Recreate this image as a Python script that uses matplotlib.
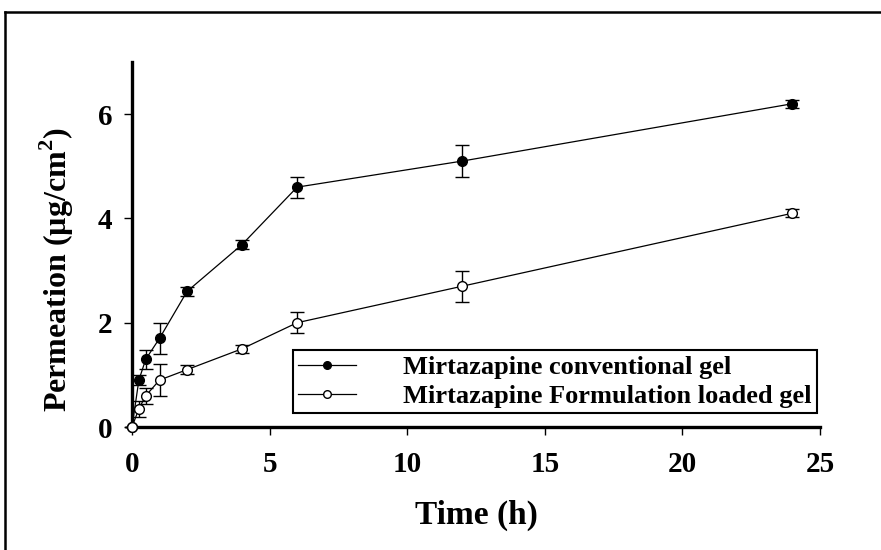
import numpy as np
import matplotlib
matplotlib.use("Agg")
from matplotlib import pyplot as plt
from matplotlib.lines import Line2D

# data
tempo = [0, 0.25, 0.5, 1, 2, 4, 6, 12, 24]
gel_convencional = [0, 0.9, 1.3, 1.7, 2.6, 3.5, 4.6, 5.1, 6.2]
erro_convencional = [0, 0.1, 0.18, 0.3, 0.08, 0.08, 0.2, 0.3, 0.08]
gel_formulacao = [0, 0.35, 0.6, 0.9, 1.1, 1.5, 2.0, 2.7, 4.1]
erro_formulacao = [0, 0.15, 0.15, 0.3, 0.08, 0.08, 0.2, 0.3, 0.08]

rotulos = ["Mirtazapine conventional gel", "Mirtazapine Formulation loaded gel"]

plt.rcParams['font.family'] = ['Liberation Serif', 'DejaVu Serif']
plt.rcParams['font.weight'] = 'bold'
plt.rcParams['mathtext.fontset'] = 'custom'
plt.rcParams['mathtext.rm'] = 'Liberation Serif:bold'
plt.rcParams['mathtext.bf'] = 'Liberation Serif:bold'

fig = plt.figure(figsize=(8.81, 5.5), dpi=100)
W, H = 881, 550
ax = fig.add_axes([132 / W, 1 - 427 / H, 688 / W, 365 / H])

ax.errorbar(tempo, gel_convencional, yerr=erro_convencional, color='black',
            lw=0.9, marker='o', ms=7, mfc='black', mec='black',
            elinewidth=1.0, capsize=5, capthick=1.0, label=rotulos[0],
            clip_on=False, zorder=3)
ax.errorbar(tempo, gel_formulacao, yerr=erro_formulacao, color='black',
            lw=0.9, marker='o', ms=7, mfc='white', mec='black',
            elinewidth=1.0, capsize=5, capthick=1.0, label=rotulos[1],
            clip_on=False, zorder=4)

ax.set_xlim(0, 25)
ax.set_ylim(0, 7)
ax.set_xticks([0, 5, 10, 15, 20, 25])
ax.set_yticks([0, 2, 4, 6])

for lado in ['top', 'right']:
    ax.spines[lado].set_visible(False)
for lado in ['left', 'bottom']:
    ax.spines[lado].set_linewidth(2.4)

ax.tick_params(direction='out', length=6, width=1.0, labelsize=21)
ax.tick_params(axis='x', pad=11)
ax.tick_params(axis='y', pad=8)
for rot in ax.get_xticklabels() + ax.get_yticklabels():
    rot.set_fontweight('bold')

ax.set_xlabel("Time (h)", fontsize=24, fontweight='bold', labelpad=16)
ax.set_ylabel(r"Permeation (µg/cm$^{2}$)", fontsize=23, fontweight='bold')
ax.yaxis.set_label_coords(-0.082, 0.43)

alcas = [Line2D([], [], color='black', lw=0.9, marker='o', ms=5.5, mfc='black', mec='black'),
         Line2D([], [], color='black', lw=0.9, marker='o', ms=5.5, mfc='white', mec='black')]
leg = ax.legend(alcas, rotulos, loc='lower right', bbox_to_anchor=(0.996, 0.038),
                fancybox=False, frameon=True, edgecolor='black', framealpha=1,
                prop={'family': 'Liberation Serif', 'weight': 'bold', 'size': 19},
                handlelength=2.2, borderpad=0.2, labelspacing=0.2, handletextpad=1.8,
                borderaxespad=0)
leg.get_frame().set_linewidth(1.5)

# moldura externa da figura
fig.add_artist(Line2D([5 / W, 5 / W], [0, 1 - 12 / H], color='black', lw=1.8))
fig.add_artist(Line2D([5 / W, 1], [1 - 12 / H, 1 - 12 / H], color='black', lw=1.8))

fig.savefig("out.png", dpi=100)
